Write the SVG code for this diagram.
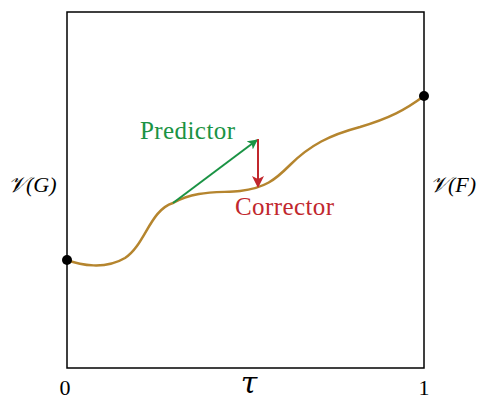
<svg xmlns="http://www.w3.org/2000/svg" width="477" height="399" viewBox="0 0 477 399">
<style>
.t{font-family:"Liberation Serif","DejaVu Serif",serif;}
.lbl{font-size:25px;}
.math{font-style:italic;font-size:22px;}
</style>
<defs>
<marker id="ag" markerWidth="10" markerHeight="10" refX="9" refY="5" orient="auto" markerUnits="userSpaceOnUse" viewBox="0 0 10 10"><path d="M0,0 L10,5 L0,10 L2.5,5 Z" fill="#1a9344"/></marker>
<marker id="ar" markerWidth="12" markerHeight="12" refX="10" refY="6" orient="auto" markerUnits="userSpaceOnUse" viewBox="0 0 12 12"><path d="M0,0 L12,6 L0,12 L3,6 Z" fill="#c1272d"/></marker>
</defs>
<rect x="67" y="12" width="357" height="356" fill="none" stroke="#000" stroke-width="1.5"/>
<g id="curve">
<path d="M67,260 C80,265 105,270 125,258 C145,245 150,210 173,203 C195,190 220,193 240,191 C265,188 275,180 290,165 C310,145 330,135 360,127 C390,118 405,110 424,96" fill="none" stroke="#b5852e" stroke-width="2.5"/>
</g>
<g id="connectors">
<line x1="173" y1="203" x2="257" y2="140" stroke="#1a9344" stroke-width="2" marker-end="url(#ag)"/>
<line x1="258" y1="139" x2="258" y2="186" stroke="#c1272d" stroke-width="2" marker-end="url(#ar)"/>
</g>
<g id="start"><circle cx="67" cy="260" r="5" fill="#000"/></g>
<g id="end"><circle cx="424" cy="96" r="5" fill="#000"/></g>
<g id="labels">
<text class="t lbl" x="140" y="139" fill="#1a9344" textLength="95">Predictor</text>
<text class="t lbl" x="235" y="215" fill="#c1272d" font-size="26" textLength="99">Corrector</text>
<text class="t math" x="8" y="192">𝒱(G)</text>
<text class="t math" x="430" y="192">𝒱(F)</text>
<text class="t" x="65" y="395" font-size="22" text-anchor="middle">0</text>
<text class="t" x="424" y="395" font-size="22" text-anchor="middle">1</text>
<text x="249" y="393" font-family="DejaVu Serif" font-size="30" font-style="italic" text-anchor="middle">τ</text>
</g>
</svg>
